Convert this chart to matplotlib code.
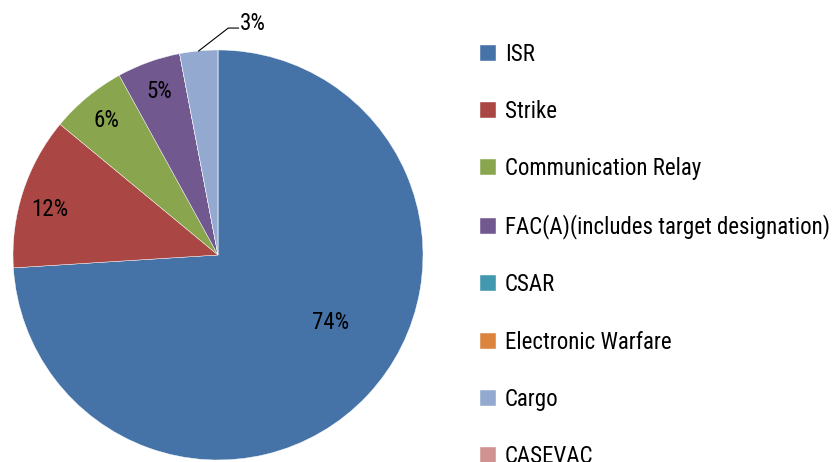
import numpy as np
import matplotlib
matplotlib.use("Agg")
import matplotlib.pyplot as plt
from matplotlib import font_manager

categories = ["ISR", "Strike", "Communication Relay",
              "FAC(A)(includes target designation)", "CSAR",
              "Electronic Warfare", "Cargo", "CASEVAC"]
shares = [74, 12, 6, 5, 0, 0, 3, 0]
colors = ["#4572A7", "#AA4643", "#89A54E", "#71588F",
          "#4198AF", "#DB843D", "#93A9CF", "#D19392"]

installed = {f.name for f in font_manager.fontManager.ttflist}
family = "DejaVu Sans"
for name in ["Liberation Sans Narrow", "Roboto Condensed", "Open Sans Condensed",
             "Lato", "Roboto"]:
    if name in installed:
        family = name
        break

W, H = 834, 462
fig = plt.figure(figsize=(W / 100, H / 100), dpi=100)

# pie centre (218, 255) px, radius 205 px
cx, cy, r = 218, 255, 205
ax = fig.add_axes([(cx - r) / W, (H - cy - r) / H, 2 * r / W, 2 * r / H])
wedges, _ = ax.pie(shares, colors=colors, startangle=90, counterclock=False,
                   wedgeprops=dict(edgecolor="white", linewidth=0.3))
ax.set_xlim(-1, 1)
ax.set_ylim(-1, 1)
ax.set_aspect("equal")
ax.axis("off")

label_font = dict(family=[family, "DejaVu Sans"], fontsize=16.5, color="black")
total = sum(shares)
for w, v in zip(wedges, shares):
    if v == 0:
        continue
    mid = np.deg2rad((w.theta1 + w.theta2) / 2)
    txt = f"{round(100 * v / total)}%"
    if v / total > 0.5:
        ax.text(0.55, -0.33, txt, ha="center", va="center", **label_font)
    elif v / total < 0.04:
        x0, y0 = np.cos(mid), np.sin(mid)
        ax.plot([x0, 0.05, 0.10], [y0, 1.107, 1.107], color="black",
                lw=0.8, clip_on=False)
        ax.text(0.107, 1.13, txt, ha="left", va="center", clip_on=False,
                **label_font)
    else:
        ang = mid + np.deg2rad(3) if v / total > 0.1 else mid
        ax.text(0.85 * np.cos(ang), 0.85 * np.sin(ang), txt,
                ha="center", va="center", **label_font)

# fit the longest legend entry into ~325 px
renderer = fig.canvas.get_renderer()
probe = fig.text(0, 0, max(categories, key=len), family=family, fontsize=20)
width = probe.get_window_extent(renderer).width
probe.remove()
legend_size = 20 * 324 / width
size_px = legend_size * 100 / 72

fig.legend(wedges, categories, loc="upper left",
           bbox_to_anchor=(480 / W, 1 - (57 - 0.6 * size_px) / H),
           frameon=False, borderpad=0, borderaxespad=0,
           handlelength=16 / size_px, handleheight=16 / size_px,
           handletextpad=9 / size_px,
           labelspacing=(61.5 - 1.2 * size_px) / size_px,
           prop=dict(family=[family, "DejaVu Sans"], size=legend_size))

fig.savefig("out.png", dpi=100)
